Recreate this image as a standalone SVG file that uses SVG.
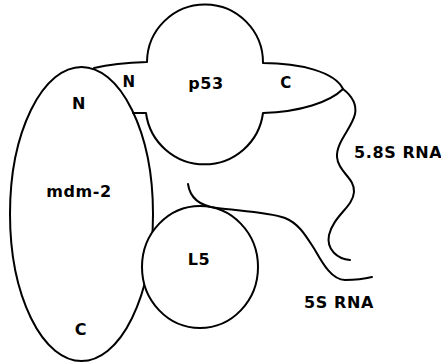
<svg xmlns="http://www.w3.org/2000/svg" width="441" height="362" viewBox="0 0 441 362">
<style>
.s{fill:none;stroke:#000;stroke-width:2;stroke-linecap:round;stroke-linejoin:round}
.w{fill:#fff;stroke:#000;stroke-width:2}
text{font-family:"DejaVu Sans",sans-serif;font-weight:bold;font-size:16px;letter-spacing:0.6px;fill:#000}
.m{text-anchor:middle}
.sm{font-size:15px}
</style>
<rect width="441" height="362" fill="#fff"/>
<g id="p53">
<path class="s" d="M94,68 Q115,63 147,62 A58,58 0 0 1 263,63 C300,63 335,72 343,89 C330,102 300,112 263,113 A59,59 0 0 1 146,113 L133,113"/>
<text class="m sm" x="129" y="87">N</text>
<text class="m" x="206" y="89">p53</text>
<text class="m sm" x="286" y="88">C</text>
</g>
<g id="mdm2">
<ellipse class="s" cx="81.5" cy="214" rx="71.5" ry="147"/>
<text class="m" x="79" y="109">N</text>
<text class="m" x="79" y="197">mdm-2</text>
<text class="m" x="81" y="335">C</text>
</g>
<g id="L5">
<ellipse class="w" cx="200" cy="267" rx="58" ry="61"/>
<text class="m" x="199" y="265">L5</text>
</g>
<g id="connectors">
<path class="s" d="M343,89 C352,96 357,104 355,114 C352,128 336,142 337,157 C338,172 355,178 354,192 C353,207 334,215 329,235 C326,250 338,259 350,260"/>
<path class="s" d="M188,184 C190,198 200,206 217,208 C240,211 268,212 285,218 C300,224 307,238 315,250 C323,264 332,280 345,280 C355,280 364,279 372,277"/>
</g>
<g id="labels">
<text x="354" y="158">5.8S RNA</text>
<text class="m" x="339" y="308">5S RNA</text>
</g>
</svg>
